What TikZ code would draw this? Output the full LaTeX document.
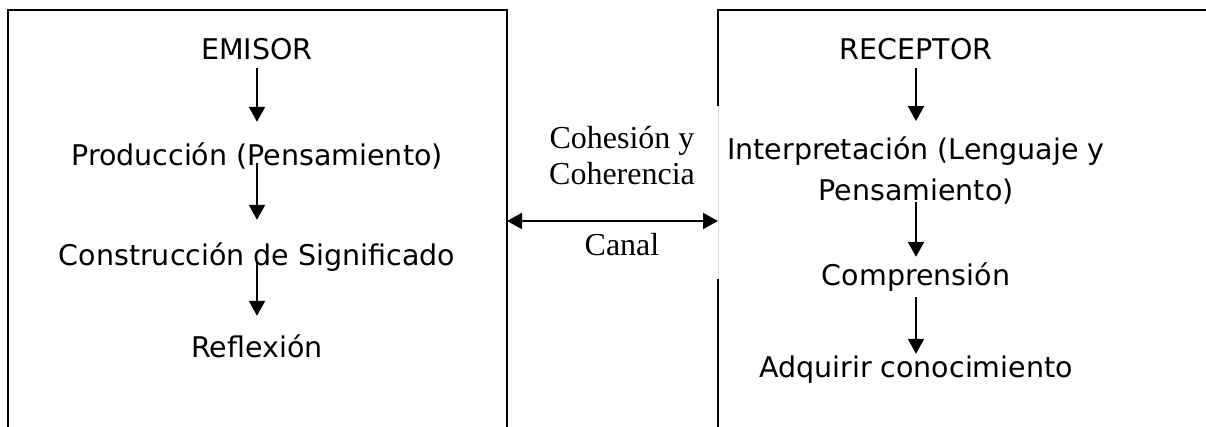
\documentclass[tikz,border=0pt]{standalone}
\usepackage{fontspec}
\setmainfont{Liberation Serif}
\newfontfamily\boxfont{DejaVu Sans}
\usetikzlibrary{arrows.meta, positioning}
\tikzset{on grid,
         >= {Triangle[width = 16pt, length = 15pt]},
         every node/.style = {inner sep = 0pt},
         etapa/.style = {font = \boxfont\fontsize{28.5}{41}\selectfont,
                         text height = 20pt, text depth = 6pt},
         parrafo/.style = {font = \boxfont\fontsize{28.5}{41}\selectfont,
                           align = center},
         canal/.style = {font = \fontsize{32}{36}\selectfont, align = center},
         flow/.style = {->, line width = 2pt},
         marco/.style = {line width = 2.6pt}}

\begin{document}
\begin{tikzpicture}[x = 1pt, y = -1pt]
        \clip (0,0) rectangle (1206,426);

        \draw[marco]                (8,440) -- (8,10) -- (507,10) -- (507,440);
        \draw[marco]                (1220,10) -- (718,10) -- (718,106);
        \draw[gray!30, line width = 1pt] (718,106) -- (718,279);
        \draw[marco]                (718,279) -- (718,440);

        \node[etapa]   (emisor)   at (257,52)                {EMISOR};
        \node[etapa]   (prod)     [below = 106pt of emisor]  {Producción (Pensamiento)};
        \node[etapa]   (constr)   [below = 100pt of prod]    {Construcción de Significado};
        \node[etapa]   (refl)     [below = 92pt of constr]   {Reflexión};

        \node[etapa]   (receptor) at (916,52)                {RECEPTOR};
        \node[parrafo] (interp)   [below = 118pt of receptor] {Interpretación (Lenguaje y\\Pensamiento)};
        \node[etapa]   (compr)    [below = 108pt of interp]  {Comprensión};
        \node[etapa]   (adq)      [below = 92pt of compr]    {Adquirir conocimiento};

        \node[canal]   (cohesion) at (622,156)               {Cohesión y\\Coherencia};
        \node[canal]   (canaltxt) at (622,245)               {Canal};
        \coordinate    (salida)   at (507,221);
        \coordinate    (llegada)  at (718,221);

        \draw[flow, shorten <= 3pt,  shorten >= 23pt]  (emisor)   -- (prod);
        \draw[flow, shorten <= -8pt, shorten >= 25pt]  (prod)     -- (constr);
        \draw[flow, shorten <= -9pt, shorten >= 21pt]  (constr)   -- (refl);
        \draw[flow, shorten <= 3pt,  shorten >= 15pt]  (receptor) -- (interp);
        \draw[flow, shorten <= -2pt, shorten >= 8pt]   (interp)   -- (compr);
        \draw[flow, shorten <= 6pt,  shorten >= 3pt]   (compr)    -- (adq);
        \draw[flow, <->]                               (salida)   -- (llegada);
\end{tikzpicture}
\end{document}
